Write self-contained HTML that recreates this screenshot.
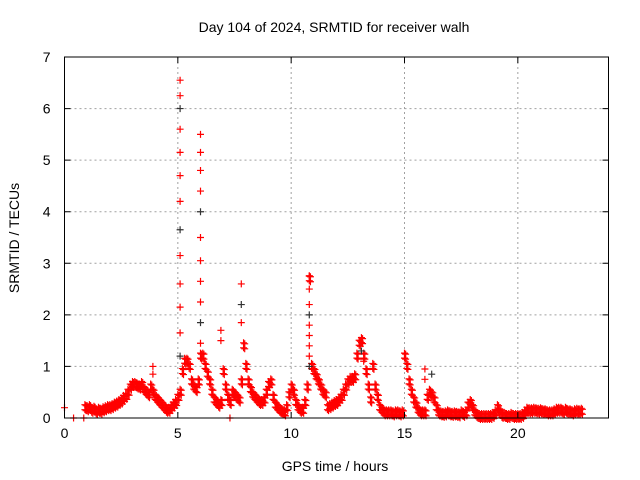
<!DOCTYPE html>
<html><head><meta charset="utf-8"><style>
body{margin:0;background:#fff}
svg{display:block;font-family:"Liberation Sans",sans-serif}
</style></head><body>
<svg id="chart" width="640" height="480" viewBox="0 0 640 480">
<rect width="640" height="480" fill="#fff"/>
<text x="334" y="32" font-size="14" text-anchor="middle">Day 104 of 2024, SRMTID for receiver walh</text>
<text x="335" y="471" font-size="14" text-anchor="middle">GPS time / hours</text>
<text transform="translate(19,238) rotate(-90)" font-size="14" text-anchor="middle">SRMTID / TECUs</text>
<g id="grid"></g><g id="marks"></g><g id="axes"></g>
</svg>
<script>
const xTicks=[0,5,10,15,20];
const yTicks=[0,1,2,3,4,5,6,7];
const bandStart=0.9;
const bandValues=[0.2,0.18,0.2,0.15,0.17,0.12,0.15,0.13,0.16,0.18,0.2,
0.2,0.22,0.25,0.27,0.3,0.33,0.38,0.42,0.5,0.6,
0.65,0.65,0.62,0.6,0.65,0.55,0.5,0.45,0.6,0.5,
0.4,0.35,0.3,0.25,0.2,0.15,0.15,0.2,0.25,0.3,
0.4,0.5,0.9,1.1,1.1,1.0,0.7,0.6,0.55,0.7,
1.2,1.2,1.0,0.85,0.7,0.5,0.35,0.3,0.25,0.3,
0.9,0.6,0.4,0.3,0.5,0.45,0.4,0.35,0.7,1.4,
1.0,0.7,0.55,0.45,0.4,0.35,0.3,0.3,0.35,0.5,
0.65,0.7,0.4,0.25,0.2,0.15,0.12,0.1,0.2,0.45,
0.6,0.5,0.3,0.2,0.15,0.15,0.3,0.6,2.7,1.0,
0.9,0.8,0.7,0.6,0.5,0.45,0.2,0.22,0.25,0.28,
0.3,0.35,0.4,0.5,0.6,0.7,0.75,0.75,0.8,1.2,
1.45,1.5,1.2,0.9,0.6,0.35,1.0,0.6,0.4,0.2,
0.15,0.1,0.1,0.1,0.1,0.08,0.1,0.1,0.08,0.1,
1.2,1.0,0.7,0.5,0.35,0.25,0.15,0.1,0.1,0.1,
0.4,0.5,0.45,0.35,0.2,0.1,0.08,0.07,0.08,0.1,
0.08,0.07,0.08,0.07,0.06,0.1,0.07,0.1,0.25,0.3,
0.2,0.1,0.05,0.03,0.03,0.03,0.03,0.03,0.03,0.05,
0.1,0.2,0.12,0.05,0.05,0.03,0.03,0.05,0.03,0.03,
0.03,0.03,0.05,0.1,0.15,0.14,0.14,0.15,0.14,0.13,
0.14,0.12,0.12,0.1,0.1,0.1,0.12,0.15,0.15,0.15,
0.12,0.15,0.12,0.12,0.1,0.12,0.13,0.12,0.13];
const spikeTimes=[5.1,5.1,5.1,5.1,5.1,5.1,5.1,5.1,5.1,5.1,5.1,5.1,5.1,
6.0,6.0,6.0,6.0,6.0,6.0,6.0,6.0,6.0,6.0,6.0,
6.9,6.9,7.8,7.8,7.8,
10.8,10.8,10.8,10.8,10.8,10.8,10.8,10.8,10.8,
3.9,3.9,15.9,15.9,16.2,0.0,0.4,0.85,7.3,13.1,13.2];
const spikeValues=[6.55,6.25,6.0,5.6,5.15,4.7,4.2,3.65,3.15,2.6,2.15,1.65,1.2,
5.5,5.15,4.8,4.4,4.0,3.5,3.05,2.65,2.25,1.85,1.45,
1.7,1.5,2.6,2.2,1.85,
2.75,2.5,2.2,2.0,1.8,1.6,1.4,1.2,1.0,
1.0,0.85,0.95,0.75,0.85,0.2,0.0,0.0,0.0,1.3,1.1];
const L=64.5,R=608.5,T=57,B=418;
const xs=h=>L+(h/24)*(R-L);
const ys=v=>B-(v/7)*(B-T);
const NS="http://www.w3.org/2000/svg";
const mk=(t,a)=>{const e=document.createElementNS(NS,t);for(const k in a)e.setAttribute(k,a[k]);return e;};
const grid=document.getElementById('grid'),axes=document.getElementById('axes'),marks=document.getElementById('marks');
xTicks.forEach(t=>{const x=xs(t);
 if(t>0){const g=mk('line',{x1:x,y1:T,x2:x,y2:B,stroke:'#a0a0a0','stroke-dasharray':'2,3'});
 
 grid.appendChild(g);}
 const tk=mk('path',{d:`M${x},${B}v-6M${x},${T}v6`,stroke:'#000'});
 
 axes.appendChild(tk);
 const lb=mk('text',{x:x,y:B+20,'font-size':'14','text-anchor':'middle'});lb.textContent=t;
 
 axes.appendChild(lb);});
yTicks.forEach(t=>{const y=ys(t);
 if(t>0&&t<7){const g=mk('line',{x1:L,y1:y,x2:R,y2:y,stroke:'#a0a0a0','stroke-dasharray':'2,3'});
 
 grid.appendChild(g);}
 const tk=mk('path',{d:`M${L},${y}h6M${R},${y}h-6`,stroke:'#000'});
 
 axes.appendChild(tk);
 const lb=mk('text',{x:L-14,y:y+5,'font-size':'14','text-anchor':'end'});lb.textContent=t;
 
 axes.appendChild(lb);});
const fr=mk('rect',{x:L,y:T,width:R-L,height:B-T,fill:'none',stroke:'#000'});

axes.appendChild(fr);
function plus(h,v,c,dy){const x=xs(h),y=ys(v)+(dy||0);
 const p=mk('path',{d:`M${x-3.5},${y}h7M${x},${y-3.5}v7`,stroke:c,'stroke-width':'1.2'});
 
 marks.appendChild(p);}
bandValues.forEach((v,i)=>{const h=bandStart+i*0.1;
 plus(h,v,'#f00',-3);plus(h+0.05,v,'#f00',3);plus(h,v,'#f00',2);plus(h+0.05,v,'#f00',-2);});
spikeTimes.forEach((h,i)=>plus(h,spikeValues[i],i%5==2?'#333':'#f00'));
</script>
</body></html>
